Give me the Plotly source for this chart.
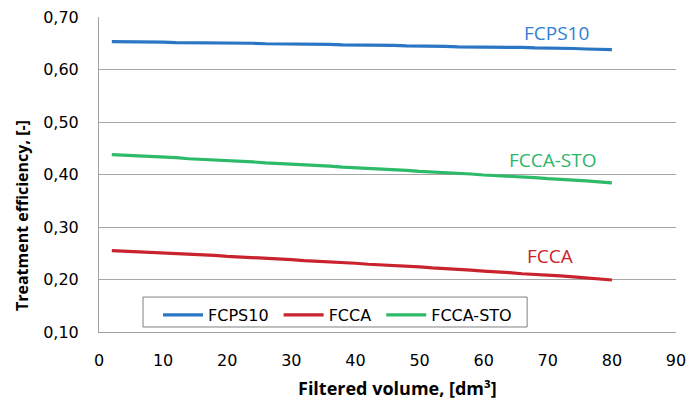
import plotly.graph_objects as go

volume = [2, 4, 6, 8, 10, 12, 14, 16, 18, 20, 22, 24, 26, 28, 30, 32, 34, 36, 38, 40,
          42, 44, 46, 48, 50, 52, 54, 56, 58, 60, 62, 64, 66, 68, 70, 72, 74, 76, 78, 80]

fcps10 = [0.653, 0.653, 0.653, 0.653, 0.652, 0.651, 0.651, 0.651, 0.651, 0.650,
          0.650, 0.650, 0.649, 0.649, 0.649, 0.648, 0.648, 0.648, 0.647, 0.647,
          0.647, 0.646, 0.646, 0.645, 0.645, 0.644, 0.644, 0.643, 0.643, 0.643,
          0.642, 0.642, 0.642, 0.641, 0.641, 0.640, 0.640, 0.639, 0.639, 0.638]

fcca = [0.255, 0.254, 0.253, 0.252, 0.251, 0.250, 0.248, 0.247, 0.246, 0.244,
        0.243, 0.242, 0.240, 0.239, 0.238, 0.236, 0.235, 0.234, 0.232, 0.231,
        0.229, 0.228, 0.227, 0.225, 0.224, 0.222, 0.221, 0.219, 0.218, 0.216,
        0.215, 0.213, 0.211, 0.210, 0.208, 0.207, 0.205, 0.203, 0.201, 0.199]

fcca_sto = [0.438, 0.437, 0.436, 0.434, 0.433, 0.432, 0.430, 0.429, 0.428, 0.426,
            0.425, 0.424, 0.422, 0.421, 0.420, 0.418, 0.417, 0.416, 0.414, 0.413,
            0.412, 0.410, 0.409, 0.408, 0.406, 0.405, 0.403, 0.402, 0.401, 0.399,
            0.398, 0.397, 0.395, 0.394, 0.392, 0.391, 0.389, 0.388, 0.386, 0.384]

series_names = ["FCPS10", "FCCA", "FCCA-STO"]
colors = ["#2b76c4", "#c9232e", "#2dba69"]
label_colors = ["#2f7fd3", "#c9232e", "#2db56a"]
label_pos = [(71.4, 0.670), (70.4, 0.245), (70.8, 0.428)]

x_ticks = [0, 10, 20, 30, 40, 50, 60, 70, 80, 90]
y_ticks = [0.10, 0.20, 0.30, 0.40, 0.50, 0.60, 0.70]

fig = go.Figure()
for name, ys, c in zip(series_names, [fcps10, fcca, fcca_sto], colors):
    fig.add_trace(go.Scatter(x=volume, y=ys, mode="lines", name=name + "\u00a0",
                             line=dict(color=c, width=3.2)))

for name, (lx, ly), c in zip(series_names, label_pos, label_colors):
    fig.add_annotation(x=lx, y=ly, text=name, showarrow=False,
                       font=dict(family="Open Sans", size=19, color=c))

fig.add_annotation(xref="paper", yref="paper", x=0, y=0.368, xshift=-77,
                   xanchor="center", yanchor="middle",
                   text="<b>Treatment efficiency, [-]</b>", textangle=-90, showarrow=False,
                   font=dict(family="Open Sans", size=16, color="#000000"))
fig.add_annotation(xref="paper", yref="paper", x=0.518, y=0, yshift=-56,
                   xanchor="center", yanchor="middle",
                   text="<b>Filtered volume, [dm³]</b>", showarrow=False,
                   font=dict(family="Open Sans", size=18, color="#000000"))

# legend frame
fig.add_shape(type="rect", xref="paper", yref="paper",
              x0=0.0763, x1=0.742, y0=0.0159, y1=0.111,
              line=dict(color="#808080", width=1), fillcolor="white", layer="above")

fig.update_layout(
    width=688, height=403,
    margin=dict(l=99, r=12, t=17, b=71),
    paper_bgcolor="white", plot_bgcolor="white",
    separators=", ",
    font=dict(family="DejaVu Sans", size=16, color="#000000"),
    showlegend=True,
    legend=dict(orientation="h", x=0.1023, y=0.108, xanchor="left", yanchor="top",
                borderwidth=0, bgcolor="rgba(0,0,0,0)",
                font=dict(family="DejaVu Sans", size=16, color="#000000"),
                itemwidth=40, tracegroupgap=0),
    xaxis=dict(range=[0, 90], tickvals=x_ticks, showgrid=False, zeroline=False,
               showline=True, linecolor="#a0a0a0", linewidth=1, automargin=False,
               ticks="", ticklabelstandoff=14,
               tickfont=dict(family="DejaVu Sans", size=16)),
    yaxis=dict(range=[0.10, 0.70], tickvals=y_ticks, tickformat=".2f",
               showgrid=True, gridcolor="#a6a6a6", gridwidth=1, zeroline=False,
               showline=True, linecolor="#a0a0a0", linewidth=1, automargin=False,
               ticks="", ticklabelstandoff=16,
               tickfont=dict(family="DejaVu Sans", size=16)),
)

fig.write_html("out.html", config={"displayModeBar": False},
               post_script="document.body.style.margin='0';document.body.style.padding='0';")
